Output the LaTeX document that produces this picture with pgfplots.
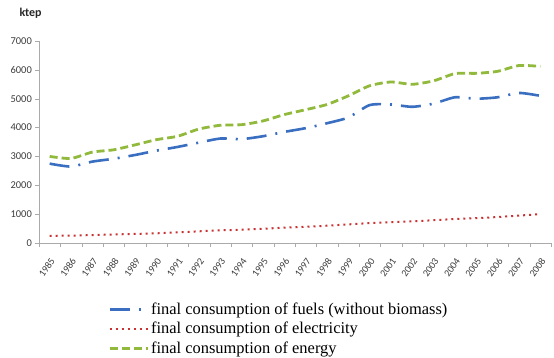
\documentclass[border=0pt]{standalone}
\usepackage{pgfplots}
\pgfplotsset{compat=1.18}
\usepackage{fontspec}
\setmainfont{Liberation Serif}
\newfontfamily\tickfont{Carlito}
\definecolor{cblue}{RGB}{58,110,192}
\definecolor{cred}{RGB}{200,50,50}
\definecolor{cgreen}{RGB}{145,185,60}
\definecolor{tgray}{RGB}{60,60,60}
\definecolor{agray}{RGB}{170,170,170}
\begin{document}
\begin{tikzpicture}
\path[use as bounding box] (0,0) rectangle (554bp,358bp);
\node[anchor=west, font=\tickfont\bfseries\fontsize{12}{14}\selectfont, text=black!85] at (16bp,345bp) {ktep};
\begin{axis}[
  at={(39bp,115bp)}, anchor=south west,
  scale only axis, width=512bp, height=202bp,
  xmin=1984.5, xmax=2008.5, ymin=0, ymax=7000,
  axis lines=left,
  axis line style={-, agray},
  xtick={1985,...,2008},
  minor xtick={1984.5,1985.5,...,2008.5},
  major x tick style={draw=none},
  minor x tick style={agray},
  minor tick length=4bp,
  ytick={0,1000,...,7000},
  y tick style={agray},
  major tick length=4bp,
  tick align=outside,
  /pgf/number format/assume math mode=true,
  /pgf/number format/1000 sep={},
  xticklabel style={xshift=3bp, yshift=-12bp, rotate=55, anchor=east, font=\tickfont\fontsize{10}{11}\selectfont, text=tgray, inner sep=0pt},
  yticklabel style={font=\tickfont\fontsize{10.5}{12}\selectfont, text=tgray, inner sep=1pt, xshift=-2bp},
  legend style={at={(0.135,-0.285)}, anchor=north west, draw=none, fill=none,
    font=\fontsize{16.5}{18}\selectfont, row sep=2.5bp, inner sep=0pt},
  legend cell align=left,
  legend image code/.code={\draw[#1] (0bp,0bp) -- (38bp,0bp);},
]
\addplot[cblue, line width=2.6bp, smooth, tension=0.4, dash pattern=on 20bp off 9bp on 2bp off 9bp] coordinates {
(1985,2750)(1986,2650)(1987,2820)(1988,2920)(1989,3050)(1990,3200)(1991,3330)(1992,3480)(1993,3620)(1994,3600)(1995,3700)(1996,3850)(1997,3980)(1998,4150)(1999,4350)(2000,4780)(2001,4800)(2002,4720)(2003,4830)(2004,5050)(2005,5000)(2006,5050)(2007,5200)(2008,5100)};
\addlegendentry{final consumption of fuels (without biomass)}
\addplot[cred, line width=2bp, smooth, tension=0.4, dash pattern=on 2bp off 4bp] coordinates {
(1985,250)(1986,255)(1987,275)(1988,295)(1989,315)(1990,335)(1991,370)(1992,405)(1993,440)(1994,460)(1995,495)(1996,530)(1997,560)(1998,600)(1999,645)(2000,690)(2001,720)(2002,750)(2003,790)(2004,830)(2005,860)(2006,900)(2007,950)(2008,1000)};
\addlegendentry{final consumption of electricity}
\addplot[cgreen, line width=2.8bp, smooth, tension=0.4, dash pattern=on 8bp off 4bp] coordinates {
(1985,3000)(1986,2930)(1987,3150)(1988,3230)(1989,3400)(1990,3580)(1991,3700)(1992,3950)(1993,4080)(1994,4100)(1995,4230)(1996,4450)(1997,4620)(1998,4800)(1999,5100)(2000,5450)(2001,5580)(2002,5500)(2003,5620)(2004,5870)(2005,5880)(2006,5950)(2007,6150)(2008,6120)};
\addlegendentry{final consumption of energy}
\end{axis}
\end{tikzpicture}
\end{document}
